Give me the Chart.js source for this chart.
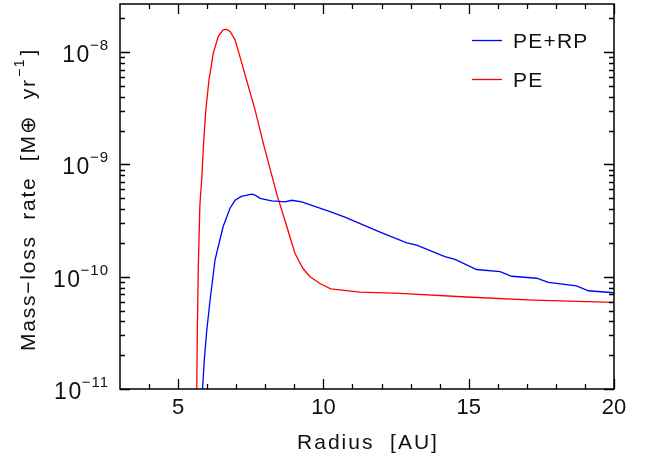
<!DOCTYPE html>
<html>
<head>
<meta charset="utf-8">
<script src="https://cdn.jsdelivr.net/npm/chart.js@4.4.1/dist/chart.umd.min.js"></script>
<style>
  html, body { margin: 0; padding: 0; background: #fff; }
  #wrap { width: 654px; height: 456px; }
</style>
</head>
<body>
<div id="wrap"><canvas id="lossChart" width="654" height="456"></canvas></div>
<script>
// PE curve (red): radius [AU] and mass-loss rate [M_earth / yr]
const peRadius = [5.64, 5.66, 5.695, 5.75, 5.81, 5.87, 5.95, 6.06, 6.21, 6.38, 6.55, 6.67, 6.79, 6.96, 7.13, 7.36, 7.65, 7.93,
    8.39, 8.74, 9.02, 9.29, 9.54, 9.88, 10.25, 11.26, 12.64, 14.93, 17.22, 20.0];
const peRate = [9.0e-12, 3.2e-11, 1.23e-10, 4.4e-10, 7.2e-10, 1.45e-9, 3.0e-9, 5.6e-9, 9.8e-9, 1.38e-8, 1.58e-8, 1.6e-8, 1.53e-8,
    1.29e-8, 9.1e-9, 5.6e-9, 3.05e-9, 1.55e-9, 5.5e-10, 2.8e-10, 1.62e-10, 1.19e-10, 1.0e-10, 8.7e-11, 7.8e-11, 7.3e-11,
    7.1e-11, 6.6e-11, 6.2e-11, 5.9e-11];

// PE+RP curve (blue)
const perpRadius = [5.83, 5.90, 5.98, 6.10, 6.27, 6.38, 6.55, 6.79, 6.96, 7.18, 7.53, 7.65, 7.82, 8.22, 8.68, 8.91, 9.25,
    10.23, 10.74, 11.95, 12.87, 13.21, 14.18, 14.53, 15.27, 16.08, 16.48, 17.34, 17.74, 18.71, 19.12, 20.0];
const perpRate = [9.0e-12, 1.8e-11, 3.2e-11, 6.2e-11, 1.41e-10, 1.85e-10, 2.8e-10, 4.1e-10, 4.8e-10, 5.2e-10, 5.45e-10,
    5.33e-10, 5.0e-10, 4.75e-10, 4.65e-10, 4.8e-10, 4.65e-10, 3.8e-10, 3.4e-10, 2.5e-10, 2.0e-10, 1.91e-10, 1.51e-10,
    1.43e-10, 1.16e-10, 1.11e-10, 1.01e-10, 9.7e-11, 8.9e-11, 8.3e-11, 7.5e-11, 7.2e-11];

// axis ticks
const xMajorTicks = [5, 10, 15, 20];
const xMinorTicks = [4, 6, 7, 8, 9, 11, 12, 13, 14, 16, 17, 18, 19];
const yDecades = [-11, -10, -9, -8];
const legendLabels = ['PE+RP', 'PE'];

const FONT = '"Liberation Sans", Arial, sans-serif';
const INK = '#111';

function toPoints(xs, ys) {
    return xs.map((x, i) => ({ x: x, y: ys[i] }));
}

// frame, inward ticks, tick labels, titles and legend
const framePlugin = {
    id: 'frame',
    afterDraw(chart) {
        const ctx = chart.ctx;
        const a = chart.chartArea;
        const xs = chart.scales.x;
        const ys = chart.scales.y;
        ctx.save();
        ctx.strokeStyle = '#000';
        ctx.lineWidth = 1.3;
        ctx.beginPath();

        // x ticks top and bottom
        const xTick = (v, len) => {
            const px = Math.round(xs.getPixelForValue(v)) + 0.5;
            ctx.moveTo(px, a.bottom); ctx.lineTo(px, a.bottom - len);
            ctx.moveTo(px, a.top); ctx.lineTo(px, a.top + len);
        };
        xMajorTicks.forEach(v => xTick(v, 10));
        xMinorTicks.forEach(v => xTick(v, 5));

        // y ticks left and right
        const yTick = (v, len) => {
            if (v < ys.min || v > ys.max) return;
            const py = Math.round(ys.getPixelForValue(v)) + 0.5;
            ctx.moveTo(a.left, py); ctx.lineTo(a.left + len, py);
            ctx.moveTo(a.right, py); ctx.lineTo(a.right - len, py);
        };
        yDecades.forEach(d => {
            yTick(Math.pow(10, d), 10);
            for (let k = 2; k <= 9; k++) yTick(k * Math.pow(10, d), 5);
        });
        ctx.stroke();

        ctx.lineWidth = 1.5;
        ctx.strokeRect(a.left, a.top, a.right - a.left, a.bottom - a.top);

        ctx.fillStyle = INK;
        ctx.textBaseline = 'alphabetic';

        // x tick labels
        ctx.font = '22px ' + FONT;
        ctx.letterSpacing = '0px';
        ctx.textAlign = 'center';
        xMajorTicks.forEach(v => {
            ctx.fillText(String(v), xs.getPixelForValue(v), 414);
        });

        // y tick labels 10^n
        ctx.textAlign = 'left';
        yDecades.forEach(d => {
            const py = ys.getPixelForValue(Math.pow(10, d));
            const exp = '\u2212' + String(-d);
            ctx.font = '15px ' + FONT;
            ctx.letterSpacing = '1px';
            const ew = ctx.measureText(exp).width;
            ctx.fillText(exp, 109 - ew, py - 2);
            ctx.font = '23px ' + FONT;
            ctx.letterSpacing = '1.5px';
            const bw = ctx.measureText('10').width;
            ctx.fillText('10', 109 - ew - bw + 1, py + 10);
        });

        // x title
        ctx.font = '21px ' + FONT;
        ctx.letterSpacing = '2px';
        ctx.textAlign = 'center';
        ctx.fillText('Radius  [AU]', (a.left + a.right) / 2 + 1, 449);

        // y title (rotated), with superscript
        ctx.save();
        ctx.translate(35, 200);
        ctx.rotate(-Math.PI / 2);
        const main = 'Mass\u2212loss  rate  [M\u2295  yr';
        const sup = '\u22121';
        const end = ']';
        ctx.font = '21px ' + FONT;
        ctx.letterSpacing = '1.8px';
        const w1 = ctx.measureText(main).width;
        const w3 = ctx.measureText(end).width;
        ctx.font = '14px ' + FONT;
        const w2 = ctx.measureText(sup).width;
        let x0 = -(w1 + w2 + w3 + 2) / 2;
        ctx.textAlign = 'left';
        ctx.font = '21px ' + FONT;
        ctx.fillText(main, x0, 0);
        ctx.font = '14px ' + FONT;
        ctx.fillText(sup, x0 + w1 + 1, -11);
        ctx.font = '21px ' + FONT;
        ctx.fillText(end, x0 + w1 + w2 + 3, 0);
        ctx.restore();

        // legend
        const rows = [40, 79];
        chart.data.datasets.forEach((ds, i) => {
            const y = rows[i] + 0.5;
            ctx.strokeStyle = ds.borderColor;
            ctx.lineWidth = 1.3;
            ctx.beginPath();
            ctx.moveTo(472, y); ctx.lineTo(502, y);
            ctx.stroke();
            ctx.fillStyle = INK;
            ctx.font = '21px ' + FONT;
            ctx.letterSpacing = '1.2px';
            ctx.textAlign = 'left';
            ctx.fillText(legendLabels[i], 513, rows[i] + 8);
        });
        ctx.restore();
    }
};

const ctx = document.getElementById('lossChart').getContext('2d');
const lossChart = new Chart(ctx, {
    type: 'line',
    data: {
        datasets: [{
            label: legendLabels[0],
            data: toPoints(perpRadius, perpRate),
            borderColor: '#0000ff',
            borderWidth: 1.3,
            pointRadius: 0,
            tension: 0
        }, {
            label: legendLabels[1],
            data: toPoints(peRadius, peRate),
            borderColor: '#ff0000',
            borderWidth: 1.3,
            pointRadius: 0,
            tension: 0
        }]
    },
    options: {
        responsive: false,
        animation: false,
        layout: { padding: { left: 0, top: 4, right: 40, bottom: 0 } },
        plugins: {
            legend: { display: false },
            tooltip: { enabled: false }
        },
        scales: {
            x: {
                type: 'linear',
                min: 3,
                max: 20,
                grid: { display: false },
                border: { display: false },
                ticks: { display: false },
                afterFit: s => { s.height = 67; }
            },
            y: {
                type: 'logarithmic',
                min: 1e-11,
                max: 2.69e-8,
                grid: { display: false },
                border: { display: false },
                ticks: { display: false },
                afterFit: s => { s.width = 120; }
            }
        }
    },
    plugins: [framePlugin]
});
</script>
</body>
</html>
